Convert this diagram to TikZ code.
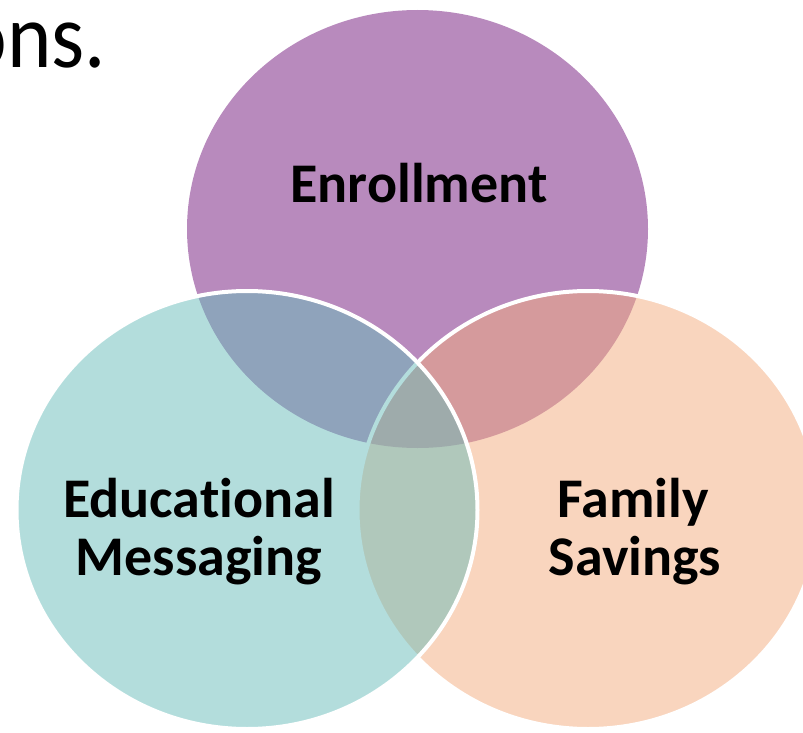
\documentclass[tikz,border=0pt]{standalone}
\usepackage{fontspec}
\setmainfont{Carlito}[Ligatures={NoCommon}]
\usetikzlibrary{shapes.geometric}
\definecolor{purp}{RGB}{184,138,189}
\definecolor{oran}{RGB}{243,171,125}
\definecolor{cyn}{RGB}{104,188,186}
\begin{document}
\begin{tikzpicture}[x=1pt,y=-1pt,
  venn/.style={ellipse, line width=4pt, minimum width=461pt, minimum height=438pt, inner sep=0pt},
  lbl/.style={font=\bfseries\fontsize{56}{60}\selectfont, text=black, inner sep=0pt, anchor=base}]
\useasboundingbox (0,0) rectangle (803,733);
\begin{scope}
\clip (0,0) rectangle (803,733);
\node[venn, fill=purp] (enr) at (417.5,229) {};
\node[venn, draw=white, fill=oran, fill opacity=0.5] (fam) at (588,510) {};
\node[venn, draw=white, fill=cyn, fill opacity=0.5] (edu) at (247,510) {};
\node[font=\fontsize{92}{92}\selectfont, inner sep=0pt, anchor=base east] (title) at (106.5,68) {\scalebox{0.92}[1]{ons.}};
\end{scope}
\node[lbl] (enrl) at (419,202) {Enrollment};
\node[lbl] (edu1) at (199,517) {Educational};
\node[lbl] (edu2) at (199,575) {Messaging};
\node[lbl] (fam1) at (633,517) {Family};
\node[lbl] (fam2) at (635,575) {Savings};
\end{tikzpicture}
\end{document}
